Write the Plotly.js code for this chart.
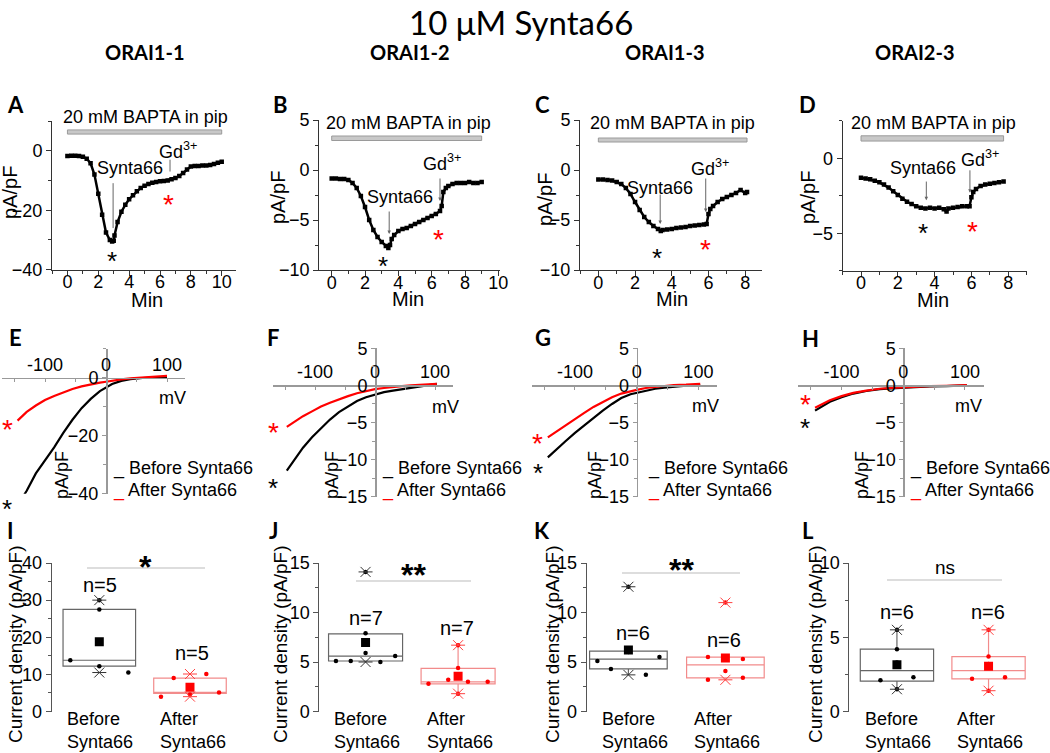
<!DOCTYPE html>
<html>
<head>
<meta charset="utf-8">
<script src="https://cdn.plot.ly/plotly-3.0.1.min.js"></script>
<style>
  html, body { margin: 0; padding: 0; background: #fff; }
  #fig { width: 1050px; height: 753px; }
</style>
</head>
<body>
<div id="fig"></div>
<script>
// ---- time courses (min, pA/pF) ----
var timeA = [0,0.25,0.5,0.75,1,1.25,1.5,1.75,2,2.25,2.5,2.75,2.9,3,3.05,3.25,3.5,3.75,4,4.25,4.5,4.75,5,5.25,5.5,5.75,6,6.25,6.5,6.75,7,7.25,7.5,7.75,8,8.25,8.5,8.75,9,9.25,9.5,9.75,10];
var currA = [-1.8,-1.7,-1.7,-1.8,-2.0,-2.7,-4.2,-8.0,-14.5,-21.5,-27.5,-30.0,-30.5,-30.3,-28.5,-24.0,-20.5,-18.2,-16.3,-15.0,-13.6,-12.5,-11.8,-11.2,-10.8,-10.5,-10.3,-10.2,-10.0,-9.6,-9.2,-8.5,-7.5,-6.3,-5.3,-5.1,-5.1,-5.0,-5.0,-4.8,-4.5,-4.0,-3.7];
var timeB = [0,0.25,0.5,0.75,1,1.25,1.5,1.75,2,2.25,2.5,2.75,3,3.25,3.4,3.5,3.6,3.75,4,4.25,4.5,4.75,5,5.25,5.5,5.75,6,6.25,6.5,6.6,6.7,6.85,7,7.25,7.5,7.75,8,8.25,8.5,8.75,9];
var currB = [-0.85,-0.85,-0.9,-0.9,-1.0,-1.3,-1.8,-2.6,-3.7,-5.0,-6.0,-6.7,-7.2,-7.6,-7.8,-7.5,-6.9,-6.5,-6.1,-5.9,-5.8,-5.6,-5.4,-5.2,-5.0,-4.8,-4.6,-4.4,-4.1,-3.6,-2.2,-1.8,-1.6,-1.4,-1.3,-1.3,-1.3,-1.2,-1.3,-1.3,-1.2];
var timeC = [0,0.25,0.5,0.75,1,1.25,1.5,1.75,2,2.25,2.5,2.75,3,3.25,3.4,3.5,3.75,4,4.25,4.5,4.75,5,5.25,5.5,5.75,5.9,6,6.1,6.25,6.5,6.75,7,7.25,7.5,7.75,8,8.1];
var currC = [-0.95,-0.95,-1.0,-1.05,-1.2,-1.4,-1.8,-2.4,-3.2,-4.0,-4.7,-5.2,-5.6,-5.9,-6.1,-6.0,-5.95,-5.9,-5.8,-5.75,-5.7,-5.6,-5.55,-5.5,-5.45,-5.4,-4.4,-3.9,-3.6,-3.2,-2.9,-2.7,-2.5,-2.3,-2.0,-2.3,-2.2];
var timeD = [0,0.25,0.5,0.75,1,1.25,1.5,1.75,2,2.25,2.5,2.75,3,3.25,3.5,3.75,4,4.25,4.5,4.65,4.75,5,5.25,5.5,5.75,5.9,6,6.1,6.25,6.5,6.75,7,7.25,7.5,7.75];
var currD = [-1.3,-1.35,-1.4,-1.5,-1.6,-1.75,-1.95,-2.2,-2.45,-2.7,-2.9,-3.05,-3.2,-3.3,-3.35,-3.3,-3.35,-3.3,-3.4,-3.55,-3.35,-3.3,-3.25,-3.2,-3.2,-3.2,-2.6,-2.25,-2.05,-1.85,-1.75,-1.7,-1.65,-1.6,-1.55];

// ---- I-V curves (mV, pA/pF) ----
var mvE = [-145,-130,-115,-100,-85,-70,-55,-40,-25,-10,0,10,25,40,60,80,100];
var preE = [-44,-39,-33,-28.5,-24,-19,-14.5,-10.5,-7.3,-4.6,-3.3,-2.2,-1.1,-0.5,-0.1,0.1,0.2];
var postE = [-14.8,-11.8,-9.6,-7.7,-6.3,-5.0,-3.9,-3.0,-2.3,-1.7,-1.4,-1.0,-0.6,-0.25,0.1,0.3,0.6];
var mvF = [-147,-135,-120,-105,-90,-75,-60,-45,-30,-15,0,15,30,45,60,80,103];
var preF = [-11.5,-10.1,-8.4,-7.0,-5.8,-4.6,-3.6,-2.8,-2.1,-1.6,-1.2,-0.9,-0.7,-0.5,-0.3,-0.1,0.2];
var postF = [-5.6,-4.9,-4.15,-3.5,-2.85,-2.35,-1.85,-1.45,-1.05,-0.75,-0.5,-0.35,-0.2,-0.1,0.0,0.1,0.2];
var mvG = [-144,-130,-115,-100,-85,-70,-55,-40,-25,-10,0,15,30,45,60,80,103];
var preG = [-9.7,-8.6,-7.5,-6.4,-5.4,-4.3,-3.4,-2.5,-1.7,-1.2,-1.0,-0.7,-0.45,-0.3,-0.15,-0.05,0.0];
var postG = [-7.0,-6.2,-5.4,-4.5,-3.7,-2.9,-2.2,-1.6,-1.1,-0.75,-0.6,-0.35,-0.2,-0.05,0.05,0.1,0.2];
var mvH = [-143,-130,-119,-100,-81,-60,-38,-20,0,20,43,70,103];
var preH = [-3.4,-2.7,-2.2,-1.6,-1.1,-0.75,-0.5,-0.4,-0.3,-0.2,-0.15,-0.1,0.0];
var postH = [-3.0,-2.5,-2.0,-1.45,-1.0,-0.7,-0.45,-0.35,-0.25,-0.2,-0.1,-0.05,0.05];

// ---- current density per cell (pA/pF) ----
var beforeI = [30, 27.5, 13.8, 12.2, 10.5];
var afterI = [9.0, 10.1, 4.0, 4.6, 5.1];
var beforeJ = [14.1, 7.9, 5.1, 5.1, 5.9, 5.0, 5.6];
var afterJ = [6.7, 4.4, 2.8, 3.2, 3.0, 3.0, 1.8];
var beforeK = [12.6, 5.1, 6.0, 5.5, 4.3, 3.7];
var afterK = [11.0, 5.5, 5.3, 4.1, 3.2, 3.4];
var beforeL = [5.5, 4.2, 3.3, 2.1, 2.3, 1.5];
var afterL = [5.5, 3.7, 3.2, 2.2, 2.3, 1.4];
// box q1, median, q3 and whisker ends [before, after]
var boxI = [[12.2, 13.8, 27.5], [4.9, 5.1, 9.0]];
var boxJ = [[5.1, 5.6, 7.85], [2.8, 3.0, 4.35]];
var boxK = [[4.3, 5.3, 6.1], [3.4, 4.7, 5.5]];
var boxL = [[2.05, 2.75, 4.2], [2.2, 2.75, 3.7]];
var whiskI = [[12.2, 27.5], [4.9, 9.0]];
var whiskJ = [[5.0, 7.85], [1.8, 6.7]];
var whiskK = [[3.7, 6.1], [3.2, 5.5]];
var whiskL = [[1.5, 5.5], [1.4, 5.5]];

var cellLines = ['ORAI1-1', 'ORAI1-2', 'ORAI1-3', 'ORAI2-3'];
var groupNames = ['Before<br>Synta66', 'After<br>Synta66'];
var signif = ['*', '**', '**', 'ns'];

var W = 1050, H = 753;
var SANS = 'Liberation Sans, Arial, sans-serif';
var TITLE = 'Lato, Noto Sans, sans-serif';
var RED = '#ff0000';
function fx(px) { return px / W; }
function fy(py) { return 1 - py / H; }
function sfx(k) { return k === 1 ? '' : String(k); }
function note(px, py, text, o) {
  o = o || {};
  return {xref: 'paper', yref: 'paper', x: fx(px), y: fy(py), text: text, showarrow: false,
    xanchor: o.xa || 'center', yanchor: o.ya || 'middle', align: o.align || 'center',
    textangle: o.angle || 0, yshift: o.ys || 0,
    font: {family: o.family || SANS, size: o.size || 18, color: o.color || '#000'}};
}
function star(px, py, color, size) {
  size = size || 26;
  return note(px, py, '*', {color: color, size: size, ys: -0.22 * size});
}

var traces = [];
var layout = {
  width: W, height: H, margin: {l: 0, r: 0, t: 0, b: 0},
  paper_bgcolor: '#fff', plot_bgcolor: 'rgba(0,0,0,0)', showlegend: false,
  font: {family: SANS, size: 18, color: '#000'},
  annotations: [], shapes: []
};
var A = layout.annotations, S = layout.shapes;

A.push(note(521, 22, '10 μM Synta66', {family: TITLE, size: 33}));
[145, 410, 665, 915].forEach(function(px, i) {
  A.push(note(px, 52, '<b>' + cellLines[i] + '</b>', {family: TITLE, size: 20}));
});

// ---- row 1: time courses ----
var timePanels = [
  {t: timeA, v: currA, xr: [-1, 10.9], yr: [-40, 10], xd: [52, 235.6], yd: [121, 269.7], dy: 20, bar: [5.6, 7.0],
   lab: [15, 105, 'A'], bapta: [145, 117], min: [147, 300], ylab: [10, 193], syn: [130, 168], gd: [178, 150],
   red: [168, 198], blk: [112, 255], arS: [2.96, -10.4, -26], arG: [6.65, -2.5, -7], head: 0},
  {t: timeB, v: currB, xr: [-0.75, 10.1], yr: [-10, 5], xd: [319.2, 500], yd: [120, 270], dy: 5, bar: [2.95, 3.4],
   lab: [280, 105, 'B'], bapta: [408, 123], min: [408, 299], ylab: [278, 198], syn: [400, 197], gd: [442, 162],
   red: [438, 233], blk: [383, 260], arS: [3.45, -4.0, -6.4], arG: [6.5, -0.7, -3.1], head: 2},
  {t: timeC, v: currC, xr: [-1, 8.9], yr: [-10, 5], xd: [580, 761.7], yd: [120, 270], dy: 5, bar: [2.8, 3.2],
   lab: [542, 105, 'C'], bapta: [672, 123], min: [672, 299], ylab: [545, 200], syn: [660, 188], gd: [710, 167],
   red: [705, 243], blk: [657, 252], arS: [3.37, -2.3, -5.4], arG: [5.85, -0.7, -4.2], head: 2},
  {t: timeD, v: currD, xr: [-1, 9], yr: [-7.5, 2.5], xd: [842.6, 1026.6], yd: [120.8, 270.8], dy: 5, bar: [1.15, 1.5],
   lab: [807, 105, 'D'], bapta: [933, 123], min: [933, 300], ylab: [808, 198], syn: [923, 168], gd: [980, 158],
   red: [972, 225], blk: [923, 227], arS: [3.55, -1.45, -2.8], arG: [5.92, -0.7, -2.3], head: 2}
];
timePanels.forEach(function(p, i) {
  var s = sfx(i + 1);
  layout['xaxis' + s] = {domain: [fx(p.xd[0]), fx(p.xd[1])], range: p.xr, anchor: 'y' + s,
    showline: true, linecolor: '#333', linewidth: 1, ticks: 'outside', ticklen: 5, tickcolor: '#333',
    tick0: 0, dtick: 2, minor: {dtick: 1, ticks: 'outside', ticklen: 3, tickcolor: '#333'},
    ticklabelstandoff: -9, showgrid: false, zeroline: false, tickfont: {size: 18}};
  layout['yaxis' + s] = {domain: [fy(p.yd[1]), fy(p.yd[0])], range: p.yr, anchor: 'x' + s,
    showline: true, linecolor: '#333', linewidth: 1, ticks: 'outside', ticklen: 5, tickcolor: '#333',
    tick0: 0, dtick: p.dy, minor: {dtick: p.dy / 2, ticks: 'outside', ticklen: 3, tickcolor: '#333'},
    showgrid: false, zeroline: false, tickfont: {size: 18}};
  traces.push({x: p.t, y: p.v, type: 'scatter', mode: 'lines+markers', xaxis: 'x' + s, yaxis: 'y' + s,
    line: {color: '#000', width: 2.5}, marker: {symbol: 'square', size: 4.5, color: '#000'}, hoverinfo: 'skip'});
  S.push({type: 'rect', xref: 'x' + s, yref: 'y' + s, x0: p.t[0], x1: p.t[p.t.length - 1],
    y0: p.bar[0], y1: p.bar[1], fillcolor: '#c8c8c8', line: {color: '#9a9a9a', width: 1}});
  A.push(note(p.lab[0], p.lab[1], '<b>' + p.lab[2] + '</b>', {family: TITLE, size: 22}));
  A.push(note(p.bapta[0], p.bapta[1], '20 mM BAPTA in pip'));
  A.push(note(p.min[0], p.min[1], 'Min', {size: 20}));
  A.push(note(p.ylab[0], p.ylab[1], 'pA/pF', {size: 20, angle: -90}));
  A.push(note(p.syn[0], p.syn[1], 'Synta66'));
  A.push(note(p.gd[0], p.gd[1], 'Gd<sup>3+</sup>'));
  A.push(star(p.red[0], p.red[1], RED, 28));
  A.push(star(p.blk[0], p.blk[1], '#000', 26));
  [p.arS, p.arG].forEach(function(a) {
    A.push({xref: 'x' + s, yref: 'y' + s, axref: 'x' + s, ayref: 'y' + s, x: a[0], y: a[2], ax: a[0], ay: a[1],
      text: '', showarrow: true, arrowhead: p.head, arrowsize: 0.7, arrowwidth: 1, arrowcolor: '#666', standoff: 0});
  });
});

// ---- row 2: I-V curves ----
var ivPanels = [
  {mv: mvE, pre: preE, post: postE, xd: [2.3, 185.3], yd: [348.7, 493.7], yr: [-40, 10], dy: 20,
   lab: [15, 337, 'E'], mvl: [172, 398], yl: [62, 475], leg: 111, red: [7, 423], blk: [7, 503]},
  {mv: mvF, pre: preF, post: postF, xd: [273, 453], yd: [348.3, 496.7], yr: [-15, 5], dy: 5,
   lab: [273, 337, 'F'], mvl: [445, 407], yl: [332, 475], leg: 380, red: [273, 426], blk: [273, 482]},
  {mv: mvG, pre: preG, post: postG, xd: [531.8, 716.9], yd: [348.3, 496.7], yr: [-15, 5], dy: 5,
   lab: [543, 337, 'G'], mvl: [705, 406], yl: [595, 475], leg: 646, red: [537, 437], blk: [538, 467]},
  {mv: mvH, pre: preH, post: postH, xd: [798.4, 983.5], yd: [348.3, 496.7], yr: [-15, 5], dy: 5,
   lab: [810, 338, 'H'], mvl: [968, 406], yl: [862, 475], leg: 908, red: [805, 398], blk: [805, 422]}
];
ivPanels.forEach(function(p, i) {
  var k = i + 5, s = sfx(k);
  var xr = [-170, 130];
  var xdom = [fx(p.xd[0]), fx(p.xd[1])], ydom = [fy(p.yd[1]), fy(p.yd[0])];
  var yPos = ydom[0] + (0 - p.yr[0]) / (p.yr[1] - p.yr[0]) * (ydom[1] - ydom[0]);
  var xPos = xdom[0] + (0 - xr[0]) / (xr[1] - xr[0]) * (xdom[1] - xdom[0]);
  layout['xaxis' + s] = {domain: xdom, range: xr, anchor: 'free', position: yPos, side: 'top',
    showline: true, linecolor: '#999', linewidth: 1.5, tickvals: [-150, -100, -50, 0, 50, 100],
    ticktext: ['', '-100', '', '0', '', '100'], ticks: 'inside', ticklen: 3, tickcolor: '#999',
    showgrid: false, zeroline: false, tickfont: {size: 18}};
  layout['yaxis' + s] = {domain: ydom, range: p.yr, anchor: 'free', position: xPos, side: 'left',
    showline: true, linecolor: '#999', linewidth: 1.5, ticks: 'outside', ticklen: 4, tickcolor: '#999',
    tick0: 0, dtick: p.dy, minor: {dtick: p.dy / 2, ticks: 'outside', ticklen: 3, tickcolor: '#999'},
    showgrid: false, zeroline: false, tickfont: {size: 18}};
  traces.push({x: p.mv, y: p.pre, type: 'scatter', mode: 'lines', xaxis: 'x' + s, yaxis: 'y' + s,
    line: {color: '#000', width: 2.2}, hoverinfo: 'skip'});
  traces.push({x: p.mv, y: p.post, type: 'scatter', mode: 'lines', xaxis: 'x' + s, yaxis: 'y' + s,
    line: {color: RED, width: 2.2}, hoverinfo: 'skip'});
  A.push(note(p.lab[0], p.lab[1], '<b>' + p.lab[2] + '</b>', {family: TITLE, size: 22}));
  A.push(note(p.mvl[0], p.mvl[1], 'mV'));
  A.push(note(p.yl[0], p.yl[1], 'pA/pF', {angle: -90}));
  A.push(note(p.leg, 468, '<span style="color:#000">_</span> Before Synta66', {xa: 'left'}));
  A.push(note(p.leg, 490, '<span style="color:#ff0000">_</span> After Synta66', {xa: 'left'}));
  A.push(star(p.red[0], p.red[1], RED, 28));
  A.push(star(p.blk[0], p.blk[1], '#000', 26));
});

// ---- row 3: box charts ----
function spread(vals, thr) {
  var idx = vals.map(function(v, i) { return i; }).sort(function(a, b) { return vals[a] - vals[b]; });
  var off = vals.map(function() { return 0; });
  var groups = [], cur = [idx[0]];
  for (var j = 1; j < idx.length; j++) {
    if (vals[idx[j]] - vals[idx[j - 1]] < thr) cur.push(idx[j]);
    else { groups.push(cur); cur = [idx[j]]; }
  }
  groups.push(cur);
  groups.forEach(function(g) {
    if (g.length < 2) return;
    g.sort(function(a, b) { return a - b; });
    var st = Math.min(0.36, 0.64 / (g.length - 1));
    g.forEach(function(ii, n) { off[ii] = (n - (g.length - 1) / 2) * st; });
  });
  return off;
}
function mean(a) { return a.reduce(function(s, v) { return s + v; }, 0) / a.length; }

var boxPanels = [
  {sets: [beforeI, afterI], box: boxI, wh: whiskI, xd: [51.7, 244.4], xr: [0.475, 2.6], yr: [0, 40], dy: 10,
   lab: [10, 530, 'I'], yl: 15, n: [[100, 585], [192, 653]], sig: [87, 205, 568], st: [145, 560], cat: [65, 158]},
  {sets: [beforeJ, afterJ], box: boxJ, wh: whiskJ, xd: [319.3, 513.6], xr: [0.5, 2.6], yr: [0, 15], dy: 5,
   lab: [273, 530, 'J'], yl: 280, n: [[366, 618], [457, 628]], sig: [356, 471, 581], st: [413, 568], cat: [332, 425]},
  {sets: [beforeK, afterK], box: boxK, wh: whiskK, xd: [586.7, 783.6], xr: [0.57, 2.6], yr: [0, 15], dy: 5,
   lab: [542, 530, 'K'], yl: 552, n: [[633, 633], [724, 640]], sig: [622, 740, 573], st: [681, 563], cat: [600, 692]},
  {sets: [beforeL, afterL], box: boxL, wh: whiskL, xd: [849.3, 1043.5], xr: [0.48, 2.6], yr: [0, 10], dy: 5,
   lab: [808, 530, 'L'], yl: 815, n: [[897, 612], [988, 612]], sig: [887, 1002, 580], st: [945, 567], cat: [863, 955]}
];
boxPanels.forEach(function(p, i) {
  var k = i + 9, s = sfx(k);
  layout['xaxis' + s] = {domain: [fx(p.xd[0]), fx(p.xd[1])], range: p.xr, anchor: 'y' + s,
    showline: false, showticklabels: false, ticks: '', showgrid: false, zeroline: false};
  layout['yaxis' + s] = {domain: [fy(711.5), fy(563)], range: p.yr, anchor: 'x' + s,
    showline: true, linecolor: '#555', linewidth: 1, ticks: 'outside', ticklen: 5, tickcolor: '#555',
    tick0: 0, dtick: p.dy, minor: {dtick: p.dy / 2, ticks: 'outside', ticklen: 3, tickcolor: '#555'},
    showgrid: false, zeroline: false, tickfont: {size: 18}};
  var thr = 0.044 * (p.yr[1] - p.yr[0]);
  p.sets.forEach(function(vals, g) {
    var pos = g + 1;
    var col = g === 0 ? '#000' : RED;
    var boxCol = g === 0 ? '#666' : '#f28b8b';
    var mmCol = g === 0 ? '#333' : '#ff4040';
    traces.push({type: 'box', orientation: 'v', x: [pos], q1: [p.box[g][0]], median: [p.box[g][1]], q3: [p.box[g][2]],
      lowerfence: [p.wh[g][0]], upperfence: [p.wh[g][1]], width: 0.8, whiskerwidth: 0, boxpoints: false,
      fillcolor: 'rgba(0,0,0,0)', line: {color: boxCol, width: 1.2}, xaxis: 'x' + s, yaxis: 'y' + s, hoverinfo: 'skip'});
    var off = spread(vals, thr);
    traces.push({type: 'scatter', mode: 'markers', x: off.map(function(o) { return pos + o; }), y: vals,
      marker: {symbol: 'circle', size: 4.5, color: col}, xaxis: 'x' + s, yaxis: 'y' + s, hoverinfo: 'skip'});
    traces.push({type: 'scatter', mode: 'markers', x: [pos], y: [mean(vals)],
      marker: {symbol: 'square', size: 9, color: col}, xaxis: 'x' + s, yaxis: 'y' + s, hoverinfo: 'skip'});
    var ext = [Math.max.apply(null, vals), Math.min.apply(null, vals)];
    ['x-thin-open', 'line-ew-open'].forEach(function(sym) {
      traces.push({type: 'scatter', mode: 'markers', x: [pos, pos], y: ext,
        marker: {symbol: sym, size: 10, color: mmCol, line: {color: mmCol, width: 1}},
        xaxis: 'x' + s, yaxis: 'y' + s, hoverinfo: 'skip'});
    });
    A.push(note(p.n[g][0], p.n[g][1], 'n=' + vals.length, {size: 20}));
    A.push(note(p.cat[g], 707, groupNames[g], {xa: 'left', ya: 'top', align: 'left'}));
  });
  S.push({type: 'line', xref: 'paper', yref: 'paper', x0: fx(p.sig[0]), x1: fx(p.sig[1]),
    y0: fy(p.sig[2]), y1: fy(p.sig[2]), line: {color: '#bbb', width: 1}});
  if (signif[i] === 'ns') A.push(note(p.st[0], p.st[1], 'ns', {size: 19}));
  else A.push(note(p.st[0], p.st[1], '<b>' + signif[i] + '</b>', {size: 32, ys: -7}));
  A.push(note(p.lab[0], p.lab[1], '<b>' + p.lab[2] + '</b>', {family: TITLE, size: 22}));
  A.push(note(p.yl, 645, 'Current density (pA/pF)', {size: 19, angle: -90}));
});

Plotly.newPlot('fig', traces, layout, {displayModeBar: false, staticPlot: true});
</script>
</body>
</html>
